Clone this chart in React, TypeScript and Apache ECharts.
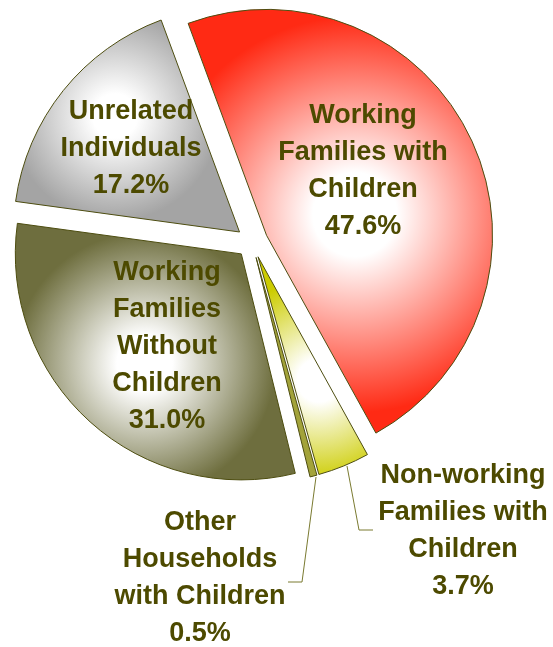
import React, { useEffect, useRef } from "react";
import * as echarts from "echarts";

const categories = [
  "Working\nFamilies with\nChildren",
  "Non-working\nFamilies with\nChildren",
  "Other\nHouseholds\nwith Children",
  "Working\nFamilies\nWithout\nChildren",
  "Unrelated\nIndividuals",
];
const shares = [47.6, 3.7, 0.5, 31.0, 17.2];
const edgeColors = ["#ff2a14", "#cccc00", "#a3a33a", "#6e6e3e", "#a4a4a4"];

// layout constants (page pixels)
const CX = 252;
const CY = 242;
const R = 226;
const OFFSET = 16;
const START = 110.3; // echarts startAngle (deg, ccw from 3 o'clock)
const LINE_GAP = 37;

const labelPos = [
  { x: 363, y: 169 },
  { x: 463, y: 529, line: [[347, 466], [359, 530], [373, 530]] },
  { x: 200, y: 576, line: [[316, 477], [302, 582], [288, 582]] },
  { x: 167, y: 345 },
  { x: 131, y: 147 },
];

function sectorGradient(i: number) {
  const total = shares.reduce((a, b) => a + b, 0);
  let a0 = START;
  for (let k = 0; k < i; k++) a0 -= (shares[k] / total) * 360;
  const a1 = a0 - (shares[i] / total) * 360;
  const mid = ((a0 + a1) / 2) * (Math.PI / 180);
  const ox = CX + OFFSET * Math.cos(mid);
  const oy = CY - OFFSET * Math.sin(mid);
  const pts: number[][] = [[ox, oy]];
  const steps = 60;
  for (let s = 0; s <= steps; s++) {
    const a = (a0 + ((a1 - a0) * s) / steps) * (Math.PI / 180);
    pts.push([ox + R * Math.cos(a), oy - R * Math.sin(a)]);
  }
  const xs = pts.map((p) => p[0]);
  const ys = pts.map((p) => p[1]);
  const minX = Math.min(...xs), maxX = Math.max(...xs);
  const minY = Math.min(...ys), maxY = Math.max(...ys);
  const gx = (minX + maxX) / 2;
  const gy = (minY + maxY) / 2;
  const gr = Math.max(maxX - minX, maxY - minY) * 0.55;
  return new echarts.graphic.RadialGradient(
    gx,
    gy,
    gr,
    [
      { offset: 0, color: "#ffffff" },
      { offset: 0.18, color: "#ffffff" },
      { offset: 0.85, color: edgeColors[i] },
      { offset: 1, color: edgeColors[i] },
    ],
    true
  );
}

export default function App() {
  const ref = useRef<HTMLDivElement>(null);
  useEffect(() => {
    const chart = echarts.init(ref.current!, null, { renderer: "svg" });
    const data = categories.map((name, i) => ({
      name,
      value: shares[i],
      selected: true,
      itemStyle: { color: i === 2 ? edgeColors[i] : sectorGradient(i) },
    }));
    const font = 'bold 27px "Liberation Sans", Arial, sans-serif';
    const texts: any[] = [];
    categories.forEach((name, i) => {
      const rows = `${name}\n${shares[i].toFixed(1)}%`.split("\n");
      const y0 = labelPos[i].y - ((rows.length - 1) * LINE_GAP) / 2;
      rows.forEach((row, r) => {
        texts.push({
          type: "text",
          z: 100,
          style: {
            text: row,
            x: labelPos[i].x,
            y: y0 + r * LINE_GAP,
            align: "center",
            verticalAlign: "middle",
            font,
            lineHeight: 24,
            fill: "#4d4a00",
          },
        });
      });
    });
    const lines = labelPos
      .filter((p) => p.line)
      .map((p) => ({
        type: "polyline",
        z: 90,
        shape: { points: p.line },
        style: { stroke: "#7a7a30", lineWidth: 1, fill: "none" },
      }));
    chart.setOption({
      animation: false,
      series: [
        {
          type: "pie",
          center: [CX, CY],
          radius: [0, R],
          startAngle: START,
          clockwise: true,
          selectedMode: "multiple",
          selectedOffset: OFFSET,
          itemStyle: { borderColor: "#4d4d10", borderWidth: 1 },
          emphasis: { disabled: true },
          label: { show: false },
          labelLine: { show: false },
          data,
        },
      ],
      graphic: [...lines, ...texts],
    });
    return () => chart.dispose();
  }, []);
  return (
    <div
      ref={ref}
      style={{ position: "fixed", left: 0, top: 0, width: 553, height: 647 }}
    />
  );
}
